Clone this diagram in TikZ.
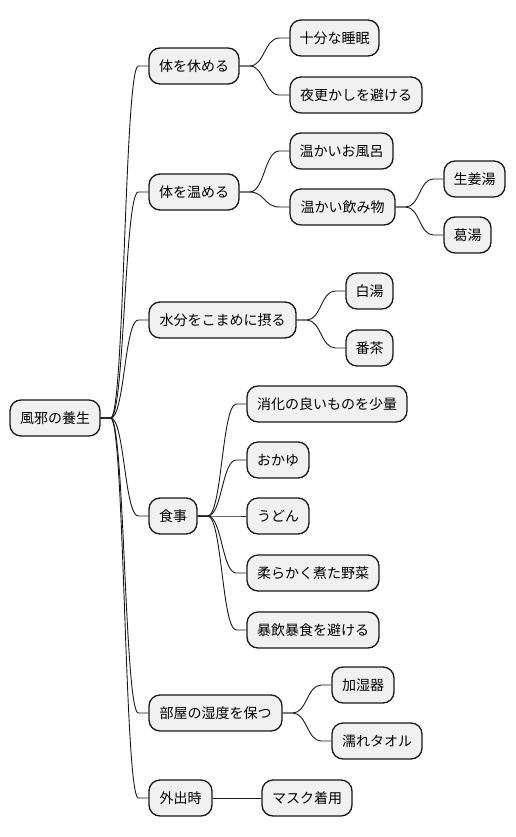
\documentclass[tikz,border=0pt]{standalone}
\usepackage{fontspec}
\setmainfont{Noto Sans CJK JP}
\usetikzlibrary{calc}
\definecolor{nodefill}{HTML}{F1F1F1}
\definecolor{nodeline}{HTML}{181818}
\tikzset{
  mmbox/.style={draw=nodeline, fill=nodefill, line width=1.3pt, rounded corners=11pt,
    inner sep=0pt, minimum height=36pt, font=\fontsize{14pt}{16pt}\selectfont, text=black},
  mmline/.style={draw=nodeline, line width=0.9pt}
}
\newcommand{\mmnode}[5]{%
  \pgfmathsetmacro{\mmcx}{(#2+#3)/2}%
  \pgfmathsetmacro{\mmw}{#3-#2}%
  \node[mmbox, minimum width=\mmw pt] (#1) at (\mmcx,#4) {#5};}
\newcommand{\mmconn}[2]{%
  \draw[mmline] let \p1=(#1.east), \p2=(#2.west) in
    (\p1) -- (\x1+10pt,\y1)
    .. controls ({0.5*\x1+0.5*\x2},\y1) and ({0.5*\x1+0.5*\x2},\y2) ..
    (\x2-10pt,\y2) -- (\p2);}
\begin{document}
\begin{tikzpicture}[x=1pt,y=-1pt]
\useasboundingbox (0,0) rectangle (516,837);
\mmnode{root}{10}{100}{418}{風邪の養生}
\mmnode{n1}{149}{239}{66}{体を休める}
\mmnode{n11}{290}{379}{38}{十分な睡眠}
\mmnode{n12}{290}{422}{95}{夜更かしを避ける}
\mmnode{n2}{149}{239}{192}{体を温める}
\mmnode{n21}{290}{393}{151}{温かいお風呂}
\mmnode{n22}{290}{395}{207}{温かい飲み物}
\mmnode{n221}{444}{505}{179}{生姜湯}
\mmnode{n222}{444}{491}{235}{葛湯}
\mmnode{n3}{149}{296}{320}{水分をこまめに摂る}
\mmnode{n31}{346}{393}{291}{白湯}
\mmnode{n32}{346}{393}{348}{番茶}
\mmnode{n4}{149}{197}{516}{食事}
\mmnode{n41}{247}{407}{404}{消化の良いものを少量}
\mmnode{n42}{247}{309}{460}{おかゆ}
\mmnode{n43}{247}{309}{516}{うどん}
\mmnode{n44}{247}{379}{573}{柔らかく煮た野菜}
\mmnode{n45}{247}{379}{630}{暴飲暴食を避ける}
\mmnode{n5}{149}{282}{713}{部屋の湿度を保つ}
\mmnode{n51}{332}{394}{685}{加湿器}
\mmnode{n52}{332}{422}{741}{濡れタオル}
\mmnode{n6}{149}{212}{798}{外出時}
\mmnode{n61}{262}{352}{798}{マスク着用}
\mmconn{root}{n1}
\mmconn{root}{n2}
\mmconn{root}{n3}
\mmconn{root}{n4}
\mmconn{root}{n5}
\mmconn{root}{n6}
\mmconn{n1}{n11}
\mmconn{n1}{n12}
\mmconn{n2}{n21}
\mmconn{n2}{n22}
\mmconn{n22}{n221}
\mmconn{n22}{n222}
\mmconn{n3}{n31}
\mmconn{n3}{n32}
\mmconn{n4}{n41}
\mmconn{n4}{n42}
\mmconn{n4}{n43}
\mmconn{n4}{n44}
\mmconn{n4}{n45}
\mmconn{n5}{n51}
\mmconn{n5}{n52}
\mmconn{n6}{n61}
\end{tikzpicture}
\end{document}
